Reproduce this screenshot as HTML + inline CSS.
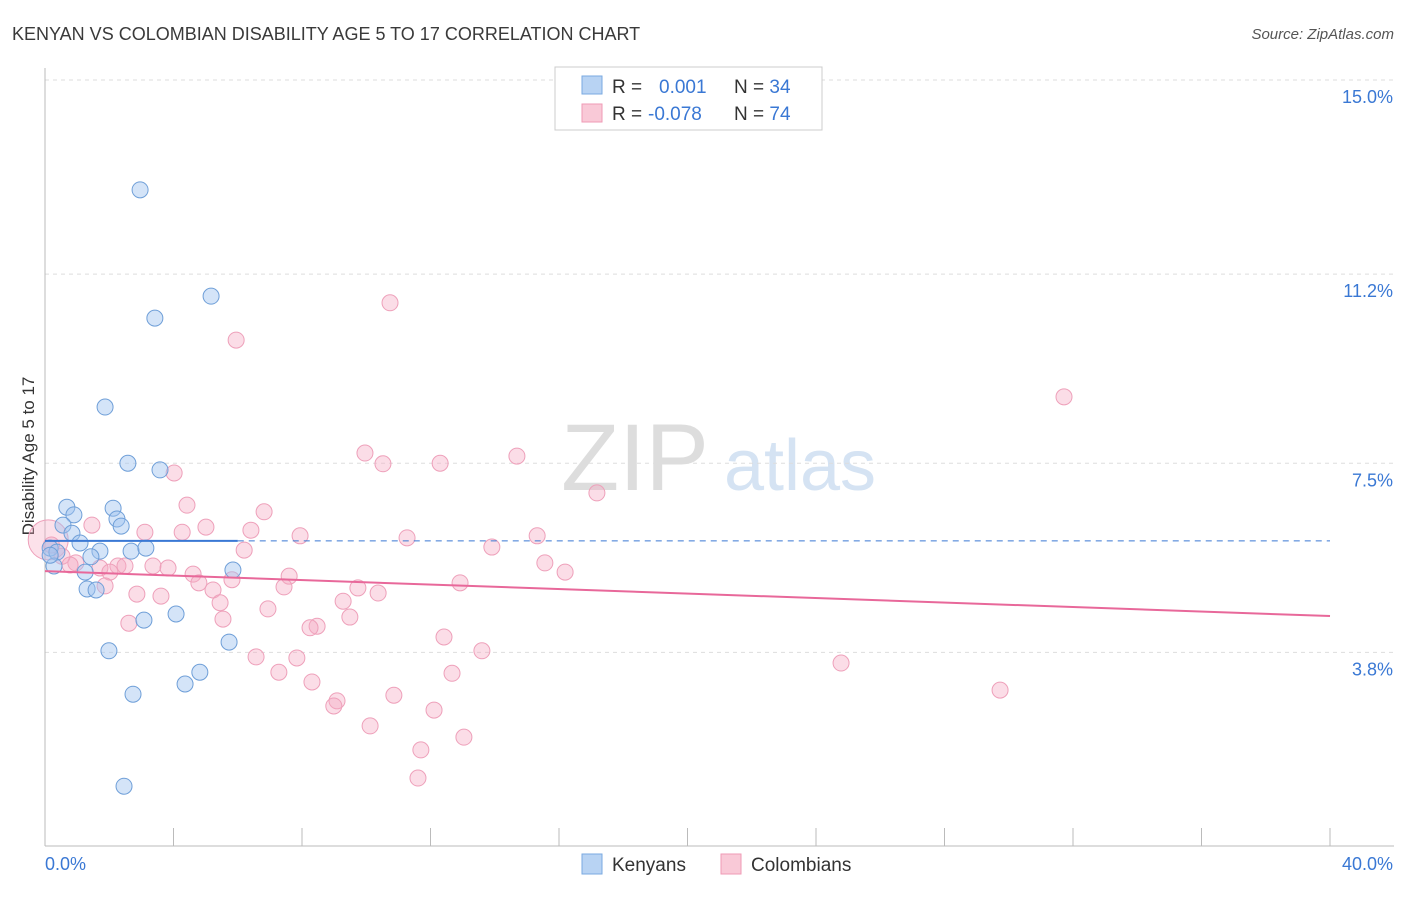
<!DOCTYPE html>
<html><head><meta charset="utf-8"><style>
body{margin:0;background:#fff;font-family:"Liberation Sans",sans-serif}
svg text{font-family:"Liberation Sans",sans-serif}
</style></head><body>
<svg id="chart" width="1406" height="892" xmlns="http://www.w3.org/2000/svg">
<text x="12" y="40" font-size="18" fill="#3a3a3a">KENYAN VS COLOMBIAN DISABILITY AGE 5 TO 17 CORRELATION CHART</text>
<text x="1394" y="39" font-size="15" fill="#555" text-anchor="end" font-style="italic">Source: ZipAtlas.com</text>
<text transform="translate(34,456) rotate(-90)" font-size="17" fill="#333" text-anchor="middle">Disability Age 5 to 17</text>
<g>
<text x="635" y="490" font-size="95" fill="#ddd" text-anchor="middle" font-family="Liberation Serif">ZIP</text>
<text x="800" y="490" font-size="72" fill="#d5e3f3" text-anchor="middle">atlas</text>
</g>
<g id="grid"></g><g id="axes"></g><g id="pts"></g><g id="trend"></g>
<g>
<rect x="555" y="67" width="267" height="63" fill="#fff" stroke="#ccc"/>
<rect x="582" y="76" width="20" height="18" fill="#b8d3f3" stroke="#7aa9e0"/>
<rect x="582" y="104" width="20" height="18" fill="#f9c9d7" stroke="#ef9ab5"/>
<text x="612" y="93" font-size="19" fill="#333">R = <tspan fill="#3a78d4" x="659">0.001</tspan><tspan fill="#333" x="734">N = </tspan><tspan fill="#3a78d4">34</tspan></text>
<text x="612" y="120" font-size="19" fill="#333">R = <tspan fill="#3a78d4" x="648">-0.078</tspan><tspan fill="#333" x="734">N = </tspan><tspan fill="#3a78d4">74</tspan></text>
</g>
<g>
<rect x="582" y="854" width="20" height="20" fill="#b8d3f3" stroke="#7aa9e0"/>
<text x="612" y="871" font-size="19" fill="#333">Kenyans</text>
<rect x="721" y="854" width="20" height="20" fill="#f9c9d7" stroke="#ef9ab5"/>
<text x="751" y="871" font-size="19" fill="#333">Colombians</text>
</g>
</svg>
<script>
const yTicks=[15.0,11.2,7.5,3.8];
const yTickLabels=["15.0%","11.2%","7.5%","3.8%"];
const xTicks=[0,4,8,12,16,20,24,28,32,36,40];
const kenX=[2.96,5.17,3.42,1.87,2.58,3.58,0.68,0.90,2.12,2.24,2.37,0.56,0.84,1.09,0.16,0.37,1.71,2.68,3.14,1.43,0.28,1.25,5.85,1.31,1.59,4.08,3.08,5.73,1.99,4.82,4.36,2.74,2.46,0.16];
const kenY=[12.85,10.77,10.34,8.60,7.50,7.37,6.64,6.49,6.62,6.41,6.27,6.29,6.13,5.94,5.84,5.76,5.78,5.78,5.84,5.67,5.49,5.37,5.41,5.04,5.02,4.55,4.43,4.00,3.83,3.41,3.18,2.98,1.18,5.70];
const colX=[10.74,5.95,31.72,9.96,14.69,10.52,12.30,4.02,17.18,4.42,6.82,1.46,5.01,6.41,4.27,3.11,7.94,15.32,11.27,13.91,6.20,0.53,0.96,15.56,16.19,1.71,2.27,2.49,3.36,3.83,2.02,4.61,7.60,5.82,4.79,12.92,7.44,1.87,9.74,5.23,10.37,2.86,3.61,9.28,5.45,6.94,9.49,5.54,2.61,8.47,8.25,12.42,13.60,6.57,7.84,24.78,7.28,12.67,8.31,29.73,10.86,9.09,8.99,12.11,10.12,13.04,11.70,11.61,0.78,0.2];
const colY=[10.64,9.91,8.80,7.70,7.64,7.49,7.50,7.31,6.92,6.68,6.55,6.29,6.25,6.19,6.15,6.15,6.08,6.08,6.04,5.86,5.80,5.68,5.55,5.55,5.37,5.45,5.49,5.49,5.49,5.45,5.37,5.33,5.29,5.22,5.16,5.16,5.08,5.10,5.06,5.02,4.96,4.94,4.90,4.80,4.77,4.65,4.49,4.45,4.37,4.31,4.28,4.10,3.83,3.71,3.69,3.59,3.41,3.39,3.22,3.06,2.96,2.85,2.75,2.67,2.36,2.14,1.89,1.34,5.51,5.9];
const kenTrend=[5.98,5.98];
const colTrend=[5.39,4.51];
const NS="http://www.w3.org/2000/svg";
const X=v=>45+v*32.125, Y=v=>80+(15-v)*51.1;
function mk(p,t,a){const e=document.createElementNS(NS,t);for(const k in a)e.setAttribute(k,a[k]);document.getElementById(p).appendChild(e);return e;}
yTicks.forEach((t,i)=>{
 let l=mk('grid','line',{x1:45,x2:1394,y1:Y(t),y2:Y(t),stroke:'#ddd','stroke-dasharray':'4,4'});
 
 
 let tx=mk('grid','text',{x:1393,y:Y(t)+23,'font-size':18,fill:'#3a78d4','text-anchor':'end'});tx.textContent=yTickLabels[i];
 
 
});
let ax=mk('axes','line',{x1:45,x2:45,y1:68,y2:846,stroke:'#bbb'});


let bx=mk('axes','line',{x1:45,x2:1394,y1:846,y2:846,stroke:'#bbb'});


xTicks.forEach(t=>{let l=mk('axes','line',{x1:X(t),x2:X(t),y1:828,y2:846,stroke:'#bbb'});
 
 });
let x0=mk('axes','text',{x:45,y:870,'font-size':18,fill:'#3a78d4'});x0.textContent='0.0%';


let x1=mk('axes','text',{x:1393,y:870,'font-size':18,fill:'#3a78d4','text-anchor':'end'});x1.textContent='40.0%';


let big=mk('pts','circle',{cx:X(0.1),cy:Y(6.0),r:20,fill:'rgba(246,170,195,0.35)',stroke:'#eea0ba','stroke-width':1});


colX.forEach((v,i)=>{let c=mk('pts','circle',{cx:X(v),cy:Y(colY[i]),r:8,fill:'rgba(246,170,195,0.4)',stroke:'#eea0ba','stroke-width':1});
 
 });
kenX.forEach((v,i)=>{let c=mk('pts','circle',{cx:X(v),cy:Y(kenY[i]),r:8,fill:'rgba(160,196,240,0.45)',stroke:'#6f9fd8','stroke-width':1});
 
 });
let k1=mk('trend','line',{x1:X(0),x2:X(6),y1:Y(kenTrend[0]),y2:Y(kenTrend[0]+(kenTrend[1]-kenTrend[0])*6/40),stroke:'#3a78d4','stroke-width':2});


let k2=mk('trend','line',{x1:X(6),x2:X(40),y1:Y(kenTrend[0]),y2:Y(kenTrend[1]),stroke:'#3a78d4','stroke-width':1,'stroke-dasharray':'6,5'});


let c1=mk('trend','line',{x1:X(0),x2:X(40),y1:Y(colTrend[0]),y2:Y(colTrend[1]),stroke:'#e8689a','stroke-width':2});


</script>
</body></html>
